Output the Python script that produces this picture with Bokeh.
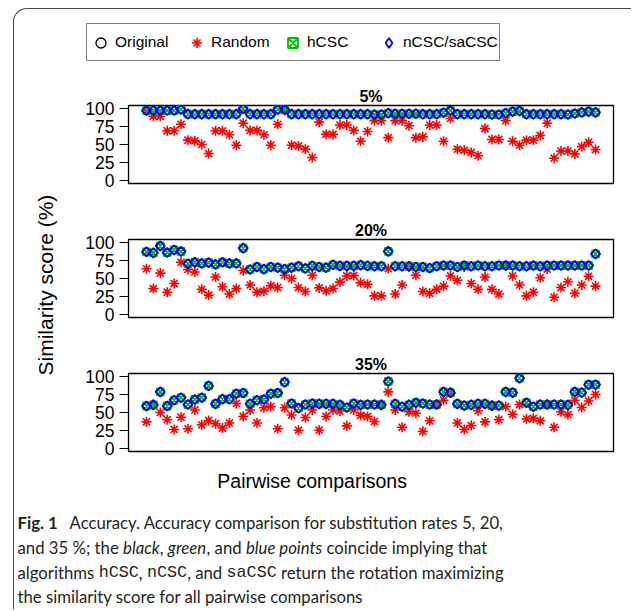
import glob, os, struct, math
import numpy as np
from bokeh.plotting import figure
from bokeh.models import Range1d, Label, Legend, LegendItem, LinearAxis, FixedTicker
from bokeh.layouts import column, row
from bokeh.embed import file_html
from bokeh.resources import INLINE

# ---------------- data ----------------
pairs = list(range(1, 67))
y_ticks = [0, 25, 50, 75, 100]
panel_titles = ["5%", "20%", "35%"]
legend_labels = ["Original", "Random", "hCSC", "nCSC/saCSC"]
x_label = "Pairwise comparisons"
y_label = "Similarity score (%)"

original_5 = [97, 97, 97, 97, 97, 98.5, 92, 92, 92, 92,
              92, 92, 92, 92, 99.5, 92, 92, 92, 92, 98.5,
              98.5, 92, 92, 92, 92, 92, 92, 92, 92, 92,
              92, 92, 92, 91.5, 91.5, 93.5, 92.5, 92.5, 92.5, 92.5,
              92, 92, 92, 94, 97, 92, 92, 92, 92, 92,
              91.5, 91.5, 93.5, 95.5, 96.5, 92, 92, 92, 92, 92,
              92, 91.5, 93, 94.5, 95.5, 94.5]
random_5 = [97, 89, 89, 69, 69, 78, 56, 55, 50, 37.5,
            69, 69, 63.5, 49, 79.5, 69.5, 69.5, 63.5, 49, 78,
            97, 49, 48, 43.5, 32, 81, 64, 64, 77, 77,
            69.5, 54.5, 68, 83, 83, 59.5, 83, 83, 76, 59.5,
            60.5, 77, 77, 54.5, 86, 43.5, 42, 39, 34.5, 72,
            57, 57, 83, 54.5, 49, 56, 56, 62.5, 79.5, 31,
            41, 41, 37, 47, 53, 43]
hcsc_5 = list(original_5)
ncsc_5 = list(original_5)

original_20 = [87, 85.5, 95, 86, 89.5, 87.5, 70.5, 72.5, 71, 72,
               69.5, 72.5, 71, 71, 92, 62.5, 66, 63, 66, 65,
               63, 65, 67, 64, 67.5, 66, 65, 69, 67.5, 67.5,
               67.5, 68.5, 67.5, 67, 67, 87.5, 67, 67, 67, 66,
               66, 64.5, 67, 68, 68, 66, 68, 67, 68, 67,
               67, 68, 68, 68, 67, 67, 68, 67, 68, 68,
               68, 68, 68, 68, 68, 84]
random_20 = [63.5, 36, 57.5, 31, 43, 72.5, 62.5, 59, 35, 27,
             52, 38.5, 28.5, 36, 61, 41, 31, 32.5, 40, 37.5,
             54.5, 50, 37.5, 32, 54.5, 37, 33, 36, 45, 53.5,
             54, 44, 42, 26, 26, 63.5, 28.5, 41, 66, 54.5,
             32, 29.5, 35, 39.5, 53.5, 47.5, 66, 43, 35, 52,
             35, 28.5, 68, 53.5, 41, 26, 31, 51, 63, 24,
             37.5, 45.5, 29.5, 41, 53, 39.5]
hcsc_20 = list(original_20)
ncsc_20 = list(original_20)

original_35 = [59, 60.5, 78.5, 59, 67, 70.5, 61, 68, 70.5, 87,
               62, 68.5, 68.5, 76, 77, 62, 67, 68, 76, 77,
               92, 62.5, 56, 61, 62.5, 62, 62, 62, 60.5, 57,
               62.5, 60.5, 61, 61, 60.5, 93, 62, 58, 60.5, 63.5,
               62.5, 61, 61, 78.5, 77.5, 62, 59.5, 60.5, 62, 62,
               59.5, 59.5, 78.5, 77.5, 97.5, 63.5, 58, 61, 61, 61,
               61, 60.5, 78.5, 77.5, 88.5, 88.5]
random_35 = [37, 61, 50, 40, 26.5, 43.5, 27.5, 53.5, 33, 39,
             34.5, 28.5, 35.5, 62.5, 44.5, 53.5, 35.5, 56.5, 58, 27.5,
             56.5, 46.5, 25.5, 43, 53.5, 25.5, 44.5, 53.5, 52, 31.5,
             53.5, 46, 44.5, 37.5, 61, 78.5, 53.5, 29.5, 51, 49,
             24, 38.5, 61, 67, 77, 35.5, 26.5, 32, 52.5, 37,
             60, 40, 58, 47.5, 61, 41, 42, 38.5, 61, 29.5,
             51, 47, 67, 57, 66, 75]
hcsc_35 = list(original_35)
ncsc_35 = list(original_35)

caption_lines = [
    [("Fig. 1", "bold"), ("", "gap"), ("Accuracy. Accuracy comparison for substitution rates 5, 20,", "normal")],
    [("and 35 %; the ", "normal"), ("black", "italic"), (", ", "normal"), ("green", "italic"),
     (", and ", "normal"), ("blue points", "italic"), (" coincide implying that", "normal")],
    [("algorithms ", "normal"), ("hCSC", "mono"), (", ", "normal"), ("nCSC", "mono"),
     (", and ", "normal"), ("saCSC", "mono"), (" return the rotation maximizing", "normal")],
    [("the similarity score for all pairwise comparisons", "normal")],
]

# ---------------- styling ----------------
FONT = "Liberation Sans"
CAP_FONT = "Lato"
MONO_FONT = "Liberation Mono"
RED, GREEN, BLUE = "#FF0000", "#00C400", "#0000FF"
CAP_COLOR = "#231F20"


# ---------------- font metrics (for caption layout) ----------------
class TTF:
    def __init__(self, path):
        data = open(path, "rb").read()
        n = struct.unpack(">H", data[4:6])[0]
        tables = {}
        for i in range(n):
            tag, cs, off, ln = struct.unpack(">4sIII", data[12 + 16 * i: 28 + 16 * i])
            tables[tag.decode("latin1")] = off
        head = tables["head"]
        self.upem = struct.unpack(">H", data[head + 18: head + 20])[0]
        hhea = tables["hhea"]
        nhm = struct.unpack(">H", data[hhea + 34: hhea + 36])[0]
        hm = tables["hmtx"]
        self.adv = [struct.unpack(">H", data[hm + 4 * i: hm + 4 * i + 2])[0] for i in range(nhm)]
        cm = tables["cmap"]
        nsub = struct.unpack(">H", data[cm + 2: cm + 4])[0]
        self.cmap = {}
        for i in range(nsub):
            pid, eid, off = struct.unpack(">HHI", data[cm + 4 + 8 * i: cm + 12 + 8 * i])
            st = cm + off
            fmt = struct.unpack(">H", data[st: st + 2])[0]
            if fmt == 4 and pid in (0, 3):
                segx2 = struct.unpack(">H", data[st + 6: st + 8])[0]
                seg = segx2 // 2
                ends = struct.unpack(">%dH" % seg, data[st + 14: st + 14 + segx2])
                starts = struct.unpack(">%dH" % seg, data[st + 16 + segx2: st + 16 + 2 * segx2])
                deltas = struct.unpack(">%dh" % seg, data[st + 16 + 2 * segx2: st + 16 + 3 * segx2])
                ro = st + 16 + 3 * segx2
                rofs = struct.unpack(">%dH" % seg, data[ro: ro + segx2])
                for s in range(seg):
                    for c in range(starts[s], min(ends[s], 0x2FF) + 1):
                        if rofs[s] == 0:
                            g = (c + deltas[s]) & 0xFFFF
                        else:
                            a = ro + 2 * s + rofs[s] + 2 * (c - starts[s])
                            g = struct.unpack(">H", data[a: a + 2])[0]
                            if g:
                                g = (g + deltas[s]) & 0xFFFF
                        self.cmap.setdefault(c, g)
                break

    def width(self, text, size):
        tot = 0
        for ch in text:
            g = self.cmap.get(ord(ch), 0)
            tot += self.adv[g] if g < len(self.adv) else self.adv[-1]
        return tot * size / self.upem


def load_font(names):
    for d in ["/usr/share/fonts", "/usr/local/share/fonts",
              os.path.expanduser("~/.fonts"), os.path.expanduser("~/.local/share/fonts")]:
        for nm in names:
            try:
                hits = glob.glob(os.path.join(d, "**", nm), recursive=True)
            except Exception:
                hits = []
            for h in hits:
                try:
                    return TTF(h)
                except Exception:
                    pass
    return None


class Fallback:
    def __init__(self, em):
        self.em = em

    def width(self, text, size):
        return len(text) * self.em * size


fonts = {
    "normal": load_font(["Lato-Regular.ttf"]) or Fallback(0.47),
    "bold": load_font(["Lato-Bold.ttf"]) or Fallback(0.52),
    "italic": load_font(["Lato-Italic.ttf", "Lato-Regular.ttf"]) or Fallback(0.45),
    "mono": load_font(["LiberationMono-Regular.ttf"]) or Fallback(0.6),
}
GAP_EM = 0.7


def seg_width(text, kind, size):
    if kind == "gap":
        return GAP_EM * size
    return fonts[kind].width(text, size)


# caption size chosen so the lines fill the measured widths of the reference
line_targets = [493, 470, 498, 331]
em_total = sum(sum(seg_width(t, k, 1.0) for t, k in line) for line in caption_lines)
cap_size = sum(line_targets) / em_total if em_total > 0 else 16.5
cap_size = max(14.0, min(19.0, cap_size))


# ---------------- panels ----------------
def add_markers(p, x, orig, rnd, hcsc, ncsc, legend_proxy=False):
    if legend_proxy:
        diamond = dict(marker="diamond", size=10)
    else:
        diamond = dict(marker="square", angle=math.pi / 4, size=6.6)
    rs = [
        p.scatter(x, orig, marker="circle", size=7.5, fill_color=None, line_color="black", line_width=1.3),
        p.scatter(x, rnd, marker="asterisk", size=10, line_color=RED, line_width=1.6),
        p.scatter(x, hcsc, marker="square_x", size=7, fill_color=None, line_color=GREEN, line_width=1.8),
        p.scatter(x, ncsc, fill_color=None, line_color=BLUE, line_width=1.8, **diamond),
    ]
    return rs


def make_panel(title, orig, rnd, hcsc, ncsc, height, top, bottom):
    p = figure(width=554, height=height, x_range=Range1d(-1.6, 68.6), y_range=Range1d(-4, 104),
               x_axis_type=None, y_axis_type=None, output_backend="svg", toolbar_location=None,
               min_border_left=60, min_border_right=9, min_border_top=top, min_border_bottom=bottom,
               title=title)
    p.outline_line_color = "black"
    p.outline_line_width = 1.3
    p.background_fill_color = "white"
    p.border_fill_color = None
    p.title.align = "center"
    p.title.text_font = FONT
    p.title.text_font_size = "16px"
    p.title.text_font_style = "bold"
    p.title.text_color = "black"
    p.title.standoff = 2
    ax = LinearAxis(ticker=FixedTicker(ticks=y_ticks, minor_ticks=[]))
    ax.major_tick_out = 9
    ax.major_tick_in = 0
    ax.minor_tick_out = 0
    ax.minor_tick_in = 0
    ax.axis_line_color = "black"
    ax.major_tick_line_color = "black"
    ax.major_label_text_font = FONT
    ax.major_label_text_font_size = "17.5px"
    ax.major_label_text_color = "black"
    ax.major_label_standoff = 5
    p.add_layout(ax, "left")
    add_markers(p, pairs, orig, rnd, hcsc, ncsc)
    return p


p1 = make_panel(panel_titles[0], original_5, random_5, hcsc_5, ncsc_5, 134, 26, 30)
p2 = make_panel(panel_titles[1], original_20, random_20, hcsc_20, ncsc_20, 134, 26, 30)
p3 = make_panel(panel_titles[2], original_35, random_35, hcsc_35, ncsc_35, 118, 26, 14)


def blank(width, height, xr, yr):
    f = figure(width=width, height=height, x_range=xr, y_range=yr, x_axis_type=None, y_axis_type=None,
               output_backend="svg", toolbar_location=None, min_border=0, title=None)
    f.outline_line_color = None
    f.background_fill_color = None
    f.border_fill_color = None
    return f


# ---------------- legend (proxy renderers carry no visible points) ----------------
leg = blank(617, 70, Range1d(0, 1), Range1d(0, 1))
nan1 = np.array([np.nan])
lr = add_markers(leg, nan1, nan1, nan1, nan1, nan1, legend_proxy=True)
legend = Legend(items=[LegendItem(label=lab, renderers=[r]) for lab, r in zip(legend_labels, lr)],
                orientation="horizontal", location=(72, 18), margin=0, padding=1,
                glyph_width=25, glyph_height=25, label_standoff=2, label_width=60, label_height=34,
                spacing=9, border_line_color="black", border_line_width=1.3,
                background_fill_color="white", background_fill_alpha=1.0,
                label_text_font=FONT, label_text_font_size="15.5px", label_text_color="black")
leg.add_layout(legend)

# ---------------- y label column ----------------
fy = blank(54, 386, Range1d(0, 54), Range1d(386, 0))
fy.add_layout(Label(x=30.6, y=205.6, text=y_label, angle=math.pi / 2, text_align="center",
                    text_baseline="middle", text_font=FONT, text_font_size="21px", text_color="black"))

# ---------------- x label + caption ----------------
cap = blank(617, 144, Range1d(0, 617), Range1d(144, 0))
cap.add_layout(Label(x=297.6, y=15.6, text=x_label, text_align="center", text_baseline="middle",
                     text_font=FONT, text_font_size="19.5px", text_color="black"))
line_y = [56.6, 81.6, 106.6, 130.6]
for line, ly in zip(caption_lines, line_y):
    cursor = 3.0
    for text, kind in line:
        w = seg_width(text, kind, cap_size)
        if kind != "gap" and text.strip():
            lead = len(text) - len(text.lstrip(" "))
            x0 = cursor + seg_width(" " * lead, kind, cap_size) if lead else cursor
            fam = MONO_FONT if kind == "mono" else CAP_FONT
            style = kind if kind in ("bold", "italic") else "normal"
            cap.add_layout(Label(x=x0, y=ly, text=text.strip(), text_align="left", text_baseline="middle",
                                 text_font=fam, text_font_style=style,
                                 text_font_size="%.2fpx" % cap_size, text_color=CAP_COLOR))
        cursor += w

root = column(leg, row(fy, column(p1, p2, p3)), cap,
              styles={"margin-left": "13px", "margin-top": "8px",
                      "border-top": "1.4px solid #444444",
                      "border-left": "1.4px solid #444444", "border-top-left-radius": "14px"})

open("out.html", "w").write(file_html(root, INLINE))
